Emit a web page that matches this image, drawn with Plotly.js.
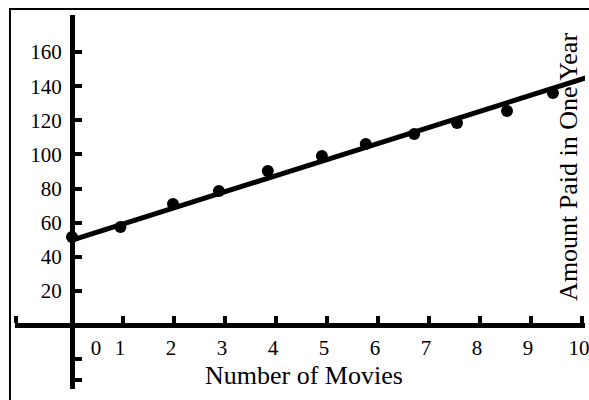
<!DOCTYPE html>
<html><head><meta charset="utf-8">
<script src="https://cdn.plot.ly/plotly-3.0.1.min.js"></script>
<style>html,body{margin:0;padding:0;background:#fff}</style>
</head><body><div id="chart" style="width:589px;height:400px"></div>
<script>
// Data
const movies = [0, 0.95, 1.98, 2.88, 3.84, 4.9, 5.76, 6.71, 7.55, 8.53, 9.43];
const amountPaid = [51.6, 57.4, 70.9, 78.5, 90.3, 99.1, 106.1, 112.0, 118.4, 125.4, 136.0];
const fitX = [0, 10.2];
const fitY = [49.8, 146.0];
const xTickVals = [1, 2, 3, 4, 5, 6, 7, 8, 9, 10];
const xTickText = ['1', '2', '3', '4', '5', '6', '7', '8', '9', '10'];
const xZeroVal = [0.47];
const xZeroText = ['0'];
const yTickVals = [20, 40, 60, 80, 100, 120, 140, 160];
const yTickText = ['20', '40', '60', '80', '100', '120', '140', '160'];
const yExtraTicks = [-32, -20];
const xTitle = 'Number of Movies';
const yTitle = 'Amount Paid in One Year';

const font = 'Liberation Serif, Times New Roman, serif';
const xMin = -1.1176, xMax = 10.059;
const yMin = -37.5, yMax = 181.7;

const traces = [
  {x: fitX, y: fitY, mode: 'lines', line: {color: '#000', width: 5}, hoverinfo: 'skip'},
  {x: movies, y: amountPaid, mode: 'markers', marker: {color: '#000', size: 12}}
];

const layout = {
  width: 589, height: 400,
  margin: {l: 15, r: 4, t: 15, b: 11},
  paper_bgcolor: '#fff', plot_bgcolor: '#fff',
  showlegend: false,
  font: {family: font, color: '#000', size: 20},
  xaxis: {
    range: [xMin, xMax], anchor: 'free', position: 0.1711,
    showgrid: false, zeroline: false, showline: true, linewidth: 5, linecolor: '#000',
    ticks: 'inside', ticklen: 7, tickwidth: 4, tickcolor: '#000',
    tickvals: [xMin + 0.02].concat(xTickVals), ticktext: [''].concat(xTickText),
    tickfont: {family: font, size: 21}, ticklabelstandoff: 2,
    ticklabeloverflow: 'allow', ticklabelshift: -3
  },
  xaxis2: {
    matches: 'x', overlaying: 'x', anchor: 'free', position: 0.1711,
    showgrid: false, zeroline: false, showline: false, ticks: '',
    tickvals: xZeroVal, ticktext: xZeroText,
    tickfont: {family: font, size: 21}, ticklabelstandoff: 8
  },
  yaxis: {
    range: [yMin, yMax], anchor: 'free', position: 0.1,
    showgrid: false, zeroline: false, showline: true, linewidth: 5, linecolor: '#000',
    ticks: 'inside', ticklen: 7, tickwidth: 4, tickcolor: '#000',
    tickvals: [yMin + 0.3].concat(yExtraTicks, yTickVals, [yMax - 0.3]),
    ticktext: ['', '', ''].concat(yTickText, ['']),
    tickfont: {family: font, size: 21}, ticklabelstandoff: 4
  },
  annotations: [
    {text: xTitle, xref: 'paper', yref: 'paper', x: 0.507, y: 0.0374,
     xanchor: 'center', yanchor: 'middle', showarrow: false, font: {family: font, size: 26}},
    {text: yTitle, xref: 'paper', yref: 'paper', x: 0.972, y: 0.594, textangle: -90,
     xanchor: 'center', yanchor: 'middle', showarrow: false, font: {family: font, size: 26}}
  ],
  shapes: [
    {type: 'rect', xref: 'paper', yref: 'paper', x0: -0.0088, x1: 1.2, y0: -0.2, y1: 1.016,
     line: {color: '#000', width: 2}, fillcolor: 'rgba(0,0,0,0)', layer: 'below'}
  ]
};

// invisible trace that activates the second x axis (used for the "0" label)
traces.push({x: [xMin], y: [0], xaxis: 'x2', mode: 'markers', marker: {opacity: 0}, hoverinfo: 'skip'});

Plotly.newPlot('chart', traces, layout, {displayModeBar: false, staticPlot: true});
</script></body></html>
